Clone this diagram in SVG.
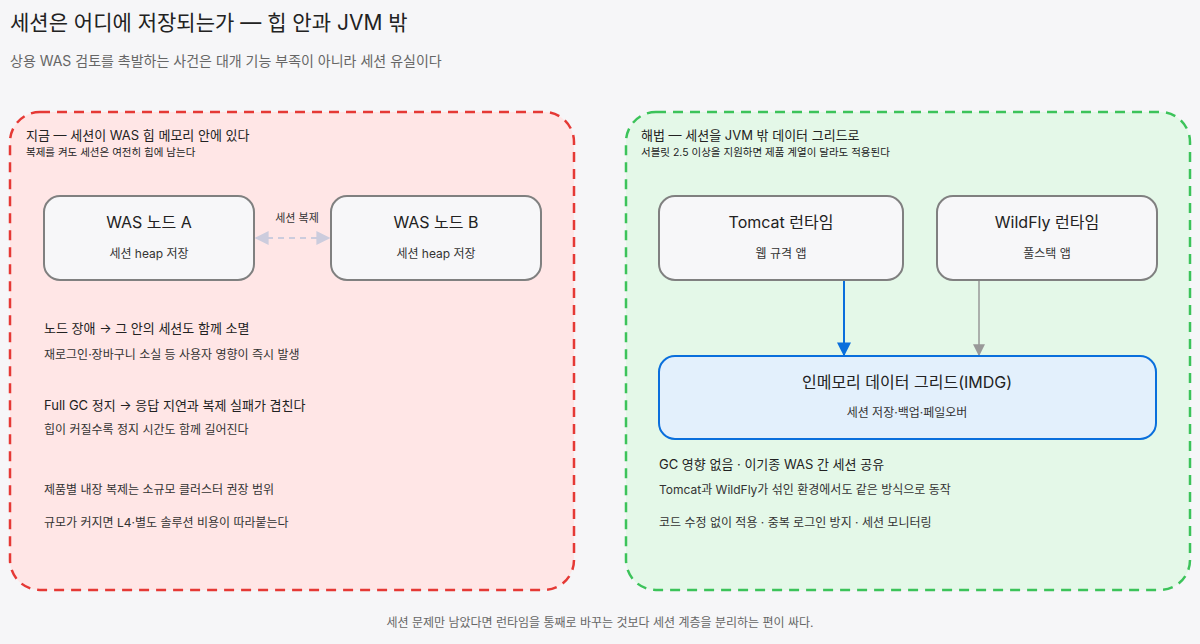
<svg xmlns="http://www.w3.org/2000/svg" width="1200" height="644" viewBox="0 0 1200 644">
<style>
text{font-family:Inter,"Noto Sans CJK KR",sans-serif;fill:#222}
.node{fill:#f7f7f9;stroke:#808080;stroke-width:2}
.t{font-size:16px;text-anchor:middle}
.s{font-size:12px;text-anchor:middle;fill:#333}
.b{font-size:13px}
.n{font-size:12px;fill:#333}
</style>
<defs>
<marker id="ab" viewBox="0 0 10 10" refX="9" refY="5" markerWidth="7" markerHeight="7" orient="auto"><path d="M0,0L10,5L0,10z" fill="#0a6fdc"/></marker>
<marker id="ag" viewBox="0 0 10 10" refX="9" refY="5" markerWidth="8" markerHeight="8" orient="auto"><path d="M0,0L10,5L0,10z" fill="#999"/></marker>
<marker id="al" viewBox="0 0 10 10" refX="9" refY="5" markerWidth="7" markerHeight="7" orient="auto-start-reverse"><path d="M0,0L10,5L0,10z" fill="#ccd"/></marker>
</defs>
<rect width="1200" height="644" fill="#f6f6f8"/>
<text x="10" y="30" style="font-size:21px">세션은 어디에 저장되는가 — 힙 안과 JVM 밖</text>
<text x="10" y="66" style="font-size:14px;fill:#666">상용 WAS 검토를 촉발하는 사건은 대개 기능 부족이 아니라 세션 유실이다</text>
<rect x="10" y="112" width="564" height="478" rx="30" fill="#ffe6e6" stroke="#e53935" stroke-width="2.5" stroke-dasharray="10 7"/>
<rect x="626" y="112" width="564" height="478" rx="30" fill="#e4f8e8" stroke="#3cc35a" stroke-width="2.5" stroke-dasharray="10 7"/>
<text x="26" y="140" style="font-size:13px">지금 — 세션이 WAS 힙 메모리 안에 있다</text>
<text x="26" y="156" style="font-size:10.5px">복제를 켜도 세션은 여전히 힙에 남는다</text>
<text x="641" y="140" style="font-size:13px">해법 — 세션을 JVM 밖 데이터 그리드로</text>
<text x="641" y="156" style="font-size:10.5px">서블릿 2.5 이상을 지원하면 제품 계열이 달라도 적용된다</text>
<g id="connectors">
<line x1="256" y1="238" x2="329" y2="238" stroke="#ccd" stroke-width="2" stroke-dasharray="6 5" marker-start="url(#al)" marker-end="url(#al)"/>
<text x="297" y="222" class="s" style="font-size:11px">세션 복제</text>
<line x1="844" y1="279" x2="844" y2="355" stroke="#0a6fdc" stroke-width="2" marker-end="url(#ab)"/>
<line x1="979" y1="279" x2="979" y2="355" stroke="#999" stroke-width="1.5" marker-end="url(#ag)"/>
</g>
<g id="nodeA"><rect class="node" x="44" y="196" width="210" height="84" rx="16"/><text class="t" x="149" y="228">WAS 노드 A</text><text class="s" x="149" y="258">세션 heap 저장</text></g>
<g id="nodeB"><rect class="node" x="331" y="196" width="210" height="84" rx="16"/><text class="t" x="436" y="228">WAS 노드 B</text><text class="s" x="436" y="258">세션 heap 저장</text></g>
<g id="tomcat"><rect class="node" x="659" y="196" width="244" height="84" rx="16"/><text class="t" x="781" y="228">Tomcat 런타임</text><text class="s" x="781" y="258">웹 규격 앱</text></g>
<g id="wildfly"><rect class="node" x="937" y="196" width="220" height="84" rx="16"/><text class="t" x="1047" y="228">WildFly 런타임</text><text class="s" x="1047" y="258">풀스택 앱</text></g>
<g id="imdg"><rect x="659" y="356" width="497" height="83" rx="16" fill="#e3f0fc" stroke="#0a6fdc" stroke-width="2"/><text class="t" x="907" y="388">인메모리 데이터 그리드(IMDG)</text><text class="s" x="907" y="417">세션 저장·백업·페일오버</text></g>
<text x="44" y="333" class="b">노드 장애 → 그 안의 세션도 함께 소멸</text>
<text x="44" y="359" class="n">재로그인·장바구니 소실 등 사용자 영향이 즉시 발생</text>
<text x="44" y="410" class="b">Full GC 정지 → 응답 지연과 복제 실패가 겹친다</text>
<text x="44" y="434" class="n">힙이 커질수록 정지 시간도 함께 길어진다</text>
<text x="44" y="494" class="n">제품별 내장 복제는 소규모 클러스터 권장 범위</text>
<text x="44" y="527" class="n">규모가 커지면 L4·별도 솔루션 비용이 따라붙는다</text>
<text x="659" y="469" class="b">GC 영향 없음 · 이기종 WAS 간 세션 공유</text>
<text x="659" y="494" class="n">Tomcat과 WildFly가 섞인 환경에서도 같은 방식으로 동작</text>
<text x="659" y="527" class="n">코드 수정 없이 적용 · 중복 로그인 방지 · 세션 모니터링</text>
<text x="600" y="627" style="font-size:12px;fill:#666;text-anchor:middle">세션 문제만 남았다면 런타임을 통째로 바꾸는 것보다 세션 계층을 분리하는 편이 싸다.</text>
</svg>
